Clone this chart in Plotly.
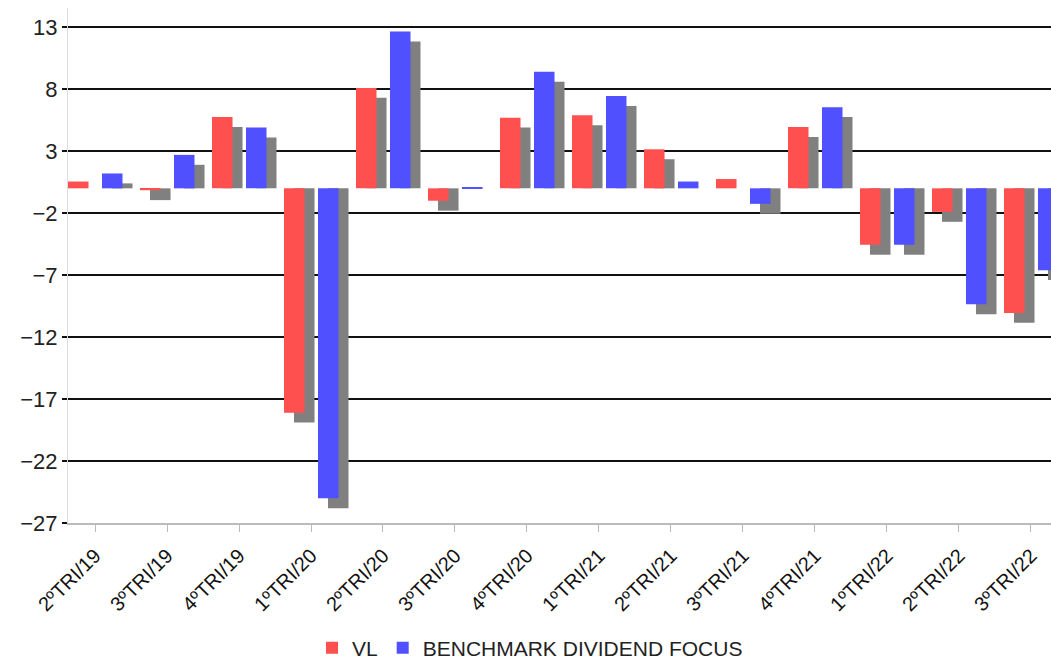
import plotly.graph_objects as go

categories = ["2ºTRI/19", "3ºTRI/19", "4ºTRI/19", "1ºTRI/20", "2ºTRI/20", "3ºTRI/20", "4ºTRI/20",
              "1ºTRI/21", "2ºTRI/21", "3ºTRI/21", "4ºTRI/21", "1ºTRI/22", "2ºTRI/22", "3ºTRI/22"]
vl = [0.55, -0.15, 5.75, -18.1, 8.1, -1.0, 5.7, 5.9, 3.15, 0.75, 4.95, -4.55, -1.9, -10.05]
bench = [1.2, 2.7, 4.9, -25.0, 12.65, 0.1, 9.4, 7.45, 0.55, -1.25, 6.55, -4.55, -9.35, -6.6]
ytick_vals = [13, 8, 3, -2, -7, -12, -17, -22, -27]

RED = "#ff5050"
BLUE = "#5050ff"
GREY = "#808080"
SHIFT = 0.8  # shadow depth in value units


def shadow(vals):
    return [v - SHIFT if (v < 0 or v > SHIFT) else 0 for v in vals]


x = list(range(len(categories)))
W = 0.285

fig = go.Figure()
fig.add_trace(go.Bar(x=x, y=shadow(vl), offset=-0.236, width=W, marker=dict(color=GREY, line=dict(width=0)),
                     showlegend=False, hoverinfo="skip"))
fig.add_trace(go.Bar(x=x, y=shadow(bench), offset=0.236, width=W, marker=dict(color=GREY, line=dict(width=0)),
                     showlegend=False, hoverinfo="skip"))
fig.add_trace(go.Bar(x=x, y=vl, offset=-0.375, width=W, name="VL",
                     marker=dict(color=RED, line=dict(width=0))))
fig.add_trace(go.Bar(x=x, y=bench, offset=0.097, width=W, name="BENCHMARK DIVIDEND FOCUS",
                     marker=dict(color=BLUE, line=dict(width=0))))

fig.update_layout(
    width=1051, height=661,
    margin=dict(l=68, r=0, t=8, b=138, autoexpand=False),
    barmode="overlay",
    plot_bgcolor="white", paper_bgcolor="white",
    font=dict(family="Liberation Sans, Arial, sans-serif", color="#222222"),
    legend=dict(orientation="h", x=0.47, xanchor="center", y=-0.243, yanchor="middle",
                font=dict(size=21, color="#222222"), traceorder="normal", itemwidth=30),
)
fig.update_xaxes(
    range=[-0.375, 13.278], tickmode="array", tickvals=x, ticktext=categories,
    tickangle=-45, tickfont=dict(size=20, color="#111111"),
    showline=True, linecolor="#bbbbbb", linewidth=2,
    ticks="outside", ticklen=7, tickcolor="#bbbbbb", tickwidth=1,
    showgrid=False, zeroline=False, automargin=False, ticklabelstandoff=4,
)
fig.update_yaxes(
    range=[-27, 14.55], tickmode="array", tickvals=ytick_vals,
    tickfont=dict(size=22, color="#222222"),
    showgrid=True, gridcolor="#111111", gridwidth=2,
    showline=True, linecolor="#dddddd", linewidth=1,
    ticks="outside", ticklen=5, tickcolor="#111111", tickwidth=2,
    zeroline=False, automargin=False,
)

fig.write_html("out.html")
